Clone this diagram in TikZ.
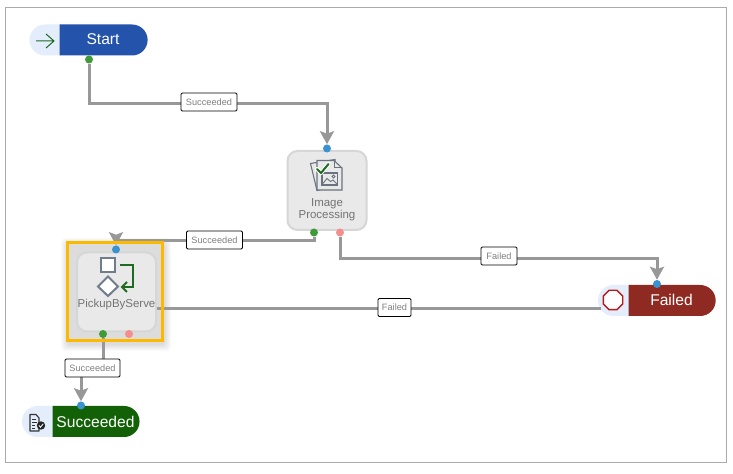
\documentclass[tikz,border=0pt]{standalone}
\usepackage{fontspec}
\setmainfont{Liberation Sans}
\usetikzlibrary{arrows.meta,shapes.misc,shapes.geometric}
\pgfdeclarelayer{front}
\pgfsetlayers{main,front}
\definecolor{lineg}{HTML}{989898}
\definecolor{paleblue}{HTML}{E3EDFB}
\definecolor{startblue}{HTML}{2453AB}
\definecolor{failred}{HTML}{8E2A22}
\definecolor{okgreen}{HTML}{136106}
\definecolor{portgreen}{HTML}{3F9A3A}
\definecolor{portblue}{HTML}{3A93CF}
\definecolor{portpink}{HTML}{F58D8D}
\definecolor{boxfill}{HTML}{E9E9E9}
\definecolor{boxline}{HTML}{D6D6D6}
\definecolor{slate}{HTML}{6F7C8C}
\definecolor{iconink}{HTML}{6A7480}
\definecolor{gold}{HTML}{FDB900}
\definecolor{leafgreen}{HTML}{1F6B1F}
\def\px{0.75pt}
\tikzset{
  x=0.75pt,y=-0.75pt,
  port/.style={circle,inner sep=0pt,minimum size=8*\px},
  pgreen/.style={port,fill=portgreen},
  pblue/.style={port,fill=portblue},
  ppink/.style={port,fill=portpink},
  conn/.style={draw=lineg,line width=3*\px},
  connarrow/.style={conn,-{Stealth[length=13*\px,width=14*\px,inset=2.5*\px]}},
  edgelabel/.style={draw=black,line width=0.9*\px,fill=white,rounded corners=1pt,inner sep=0pt,
    minimum height=18*\px,text=black!50,font=\fontsize{6.9}{8}\selectfont},
  pilltext/.style={rounded rectangle,rounded rectangle west arc=none,inner sep=0pt,minimum height=31*\px,
    text=white,font=\fontsize{11.7}{14}\selectfont},
  pillicon/.style={rounded rectangle,rounded rectangle east arc=none,inner sep=0pt,minimum height=31*\px,
    fill=paleblue},
  taskbox/.style={draw=boxline,line width=2*\px,fill=boxfill,rounded corners=10*\px,
    minimum width=79*\px,minimum height=79*\px,inner sep=0pt},
  tasktext/.style={text=black!55,font=\fontsize{8.6}{9}\selectfont,align=center,inner sep=0pt},
  halo/.style={fill=black,fill opacity=0.018,draw=none,rounded corners=3pt}
}
\begin{document}
\begin{tikzpicture}
\useasboundingbox (0,0) rectangle (733,474);
\fill[white] (0,0) rectangle (733,474);
\draw[draw=black!33,line width=1*\px] (5,7.5) rectangle (726.5,462.5);

% ports (above everything)
\begin{pgfonlayer}{front}
\node[pgreen] (pStartOk) at (89,59.5) {};
\node[pblue] (pImgIn) at (327,148.5) {};
\node[pgreen] (pImgOk) at (314,232.5) {};
\node[ppink] (pImgFail) at (340,232.5) {};
\node[pblue] (pPickIn) at (116,249.5) {};
\node[pgreen] (pPickOk) at (103,334) {};
\node[ppink] (pPickFail) at (129,334) {};
\node[pblue] (pFailIn) at (657,284) {};
\node[pblue] (pDoneIn) at (81,405.5) {};
\end{pgfonlayer}

% shadow of the selected task
\foreach \d in {7,6,5,4,3,2,1}{
  \fill[halo] (67-\d+1,242-\d+3) rectangle (163+\d+1,341+\d+3);
}

% pills
\node[pillicon,minimum width=30*\px] (startIcon) at (45,40) {};
\node[pilltext,fill=startblue,minimum width=88*\px] (startNode) at (103,40) {\raisebox{1pt}{Start}};
\node[pillicon,minimum width=33*\px] (failIcon) at (614.5,300.5) {};
\node[pilltext,fill=failred,minimum width=87*\px] (failNode) at (671.5,300.5) {\raisebox{1pt}{Failed}};
\node[pillicon,minimum width=32*\px] (doneIcon) at (38,421.5) {};
\node[pilltext,fill=okgreen,minimum width=87*\px] (doneNode) at (95.5,421.5) {Succeeded};

% tasks
\node[taskbox] (imgTask) at (327,190.5) {};
\node[tasktext] (imgText) at (327,209.5) {Image\\Processing};
\node[taskbox] (pickTask) at (116.5,292) {};
\node[tasktext] (pickText) at (116.5,305) {PickupByServe};

% connector ends
\coordinate (startTurn) at (327,103.5);
\coordinate (imgTurn) at (116,241);
\coordinate (failTurn) at (657,258.5);
\coordinate (pickOut) at (156.5,308.5);
\coordinate (failInLine) at (601,308.5);
\coordinate (pickTurn) at (81,368);

% connectors
\draw[connarrow] (pStartOk) |- (startTurn) -- (pImgIn);
\draw[connarrow] (pImgOk) |- (imgTurn) -- (pPickIn);
\draw[connarrow] (pImgFail) |- (failTurn) -- (pFailIn);
\draw[conn] (pickOut) -- (failInLine);
\draw[connarrow] (pPickOk) |- (pickTurn) -- (pDoneIn);

% selection frame
\node[draw=gold,line width=3.2*\px,minimum width=95*\px,minimum height=98*\px,inner sep=0pt] (selFrame) at (115,291.5) {};

% edge labels
\begin{pgfonlayer}{front}
\node[edgelabel,minimum width=56*\px] (lab1) at (209,102) {Succeeded};
\node[edgelabel,minimum width=56*\px] (lab2) at (214.5,240) {Succeeded};
\node[edgelabel,minimum width=36*\px] (lab3) at (499,256) {Failed};
\node[edgelabel,minimum width=33*\px] (lab4) at (394.5,307.5) {Failed};
\node[edgelabel,minimum width=55*\px] (lab5) at (92.5,368) {Succeeded};
\end{pgfonlayer}

% start icon
\draw[leafgreen,line width=1*\px] (36,41) -- (54,41) (46,34) -- (54,41) -- (46,48);

% failed icon
\node[regular polygon,regular polygon sides=8,draw=red!70!black!90,line width=1.4*\px,fill=white,minimum size=21*\px,inner sep=0pt] (stopIcon) at (613,300) {};

% done icon
\draw[black!80,line width=1.1*\px,line join=round,fill=paleblue] (30,414.5) -- (36,414.5) -- (39,418) -- (39,431) -- (30,431) -- cycle;
\draw[black!80,line width=0.9*\px] (32,419) -- (36,419) (32,422) -- (37,422) (32,425) -- (35,425) (32,428) -- (35,428);
\fill[black!85] (41,425.5) circle (4.2*\px);
\draw[white,line width=0.8*\px] (39,425.5) -- (40.5,427.2) -- (43.2,423.8);

% image processing icon
\draw[iconink,line width=1.1*\px,fill=boxfill] (310.5,163.5) -- (335,159.5) -- (336,186) -- (317,190.5) -- cycle;
\draw[iconink,line width=1.1*\px,fill=boxfill] (317,160.5) -- (334,160.5) -- (342,168) -- (342,190) -- (317,190) -- cycle;
\draw[iconink,line width=1*\px] (334,160.5) -- (334,168) -- (342,168);
\draw[iconink,line width=1.2*\px,fill=boxfill] (322,173) rectangle (337.5,185);
\draw[iconink,line width=0.9*\px] (322.5,184) -- (327,178.5) -- (330.5,181.5) -- (333,180) -- (337,184);
\draw[iconink,line width=0.9*\px] (333.5,176.5) circle (1.6*\px);
\draw[white,line width=4*\px,line cap=round,line join=round] (317,169) -- (321,173) -- (328.5,164);
\draw[leafgreen,line width=2*\px,line cap=round,line join=round] (317,169) -- (321,173) -- (328.5,164);

% pickup icon
\draw[slate,line width=2*\px,fill=white] (101,258.5) rectangle (115,272);
\draw[slate,line width=2*\px,fill=white] (108,276.5) -- (118,286.5) -- (108,296) -- (98,286.5) -- cycle;
\draw[leafgreen,line width=2*\px,line join=miter] (120,265) -- (133,265) -- (133,287) -- (122,287);
\draw[leafgreen,line width=2*\px] (127,282) -- (122,287) -- (127,292);
\end{tikzpicture}
\end{document}
